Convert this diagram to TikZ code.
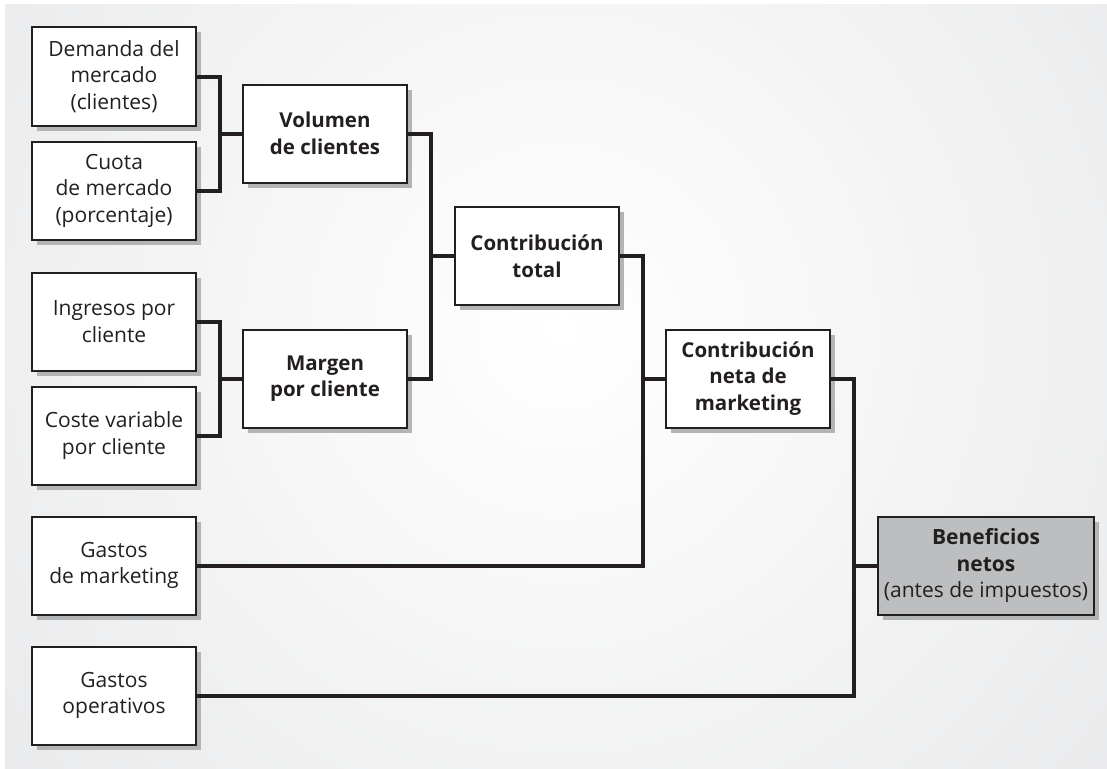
\documentclass[tikz,border=0pt]{standalone}
\usepackage{fontspec}
\setmainfont{Open Sans}
\usepackage{xcolor}
\usepackage{tikz}
\usetikzlibrary{positioning,calc,shadows}
\definecolor{ink}{HTML}{231F20}
\definecolor{bggray}{HTML}{DCDDDF}
\definecolor{shadowgray}{HTML}{B3B4B6}
\definecolor{resultfill}{HTML}{BCBEC0}
\tikzset{
  box/.style={draw=ink, line width=2pt, fill=white, text=ink, outer sep=0pt,
    minimum width=164pt, minimum height=98pt, align=center,
    font=\fontsize{21}{26.5}\selectfont,
    general shadow={fill=shadowgray, shadow xshift=5pt, shadow yshift=-5pt}},
  kbox/.style={box, font=\fontsize{20.5}{26.5}\selectfont\bfseries},
  rbox/.style={box, fill=resultfill, minimum width=216pt},
  link/.style={draw=ink, line width=4pt}
}

\begin{document}
\begin{tikzpicture}[node distance=16pt and 24pt]
  \useasboundingbox (0,0) rectangle (1107pt,-768pt);
  \begin{scope}
    \clip (5pt,-5pt) rectangle (1107pt,-768pt);
    \fill[bggray] (5pt,-5pt) rectangle (1107pt,-768pt);
    \shade[inner color=white, outer color=bggray] (560pt,-330pt) circle (1150pt);
  \end{scope}
  % inputs (left column)
  \node[box] (dem) at (114pt,-76.5pt) {Demanda del\\mercado\\(clientes)};
  \node[box, below=of dem] (cuo) {Cuota\\de mercado\\(porcentaje)};
  \node[box, below=33pt of cuo] (ing) {Ingresos por\\cliente};
  \node[box, below=of ing] (cos) {Coste variable\\por cliente};
  \node[box, below=32pt of cos] (gmk) {Gastos\\de marketing};
  \node[box, below=32pt of gmk] (gop) {Gastos\\operativos};
  % intermediate results
  \node[kbox] (vol) at ($(dem)!0.5!(cuo)+(211pt,0)$) {Volumen\\de clientes};
  \node[kbox] (mar) at ($(ing)!0.5!(cos)+(211pt,0)$) {Margen\\por cliente};
  \node[kbox] (tot) at ($(vol)!0.5!(mar)+(212pt,0)$) {Contribución\\total};
  \node[kbox] (net) at ($(mar)+(423pt,0)$) {Contribución\\neta de\\marketing};
  \node[rbox] (ben) at ($(gmk)+(872pt,0)$) {\textbf{Beneficios}\\\textbf{netos}\\(antes de impuestos)};
  % junctions
  \coordinate[right=of dem.east] (j1);
  \coordinate[right=of vol.east] (j2);
  \coordinate[right=of tot.east] (j3);
  \coordinate[right=of net.east] (j4);
  \draw[link] (dem.east) -- (j1) |- (cuo.east);
  \draw[link] (j1 |- vol.west) -- (vol.west);
  \draw[link] (ing.east) -- (ing.east -| j1) |- (cos.east);
  \draw[link] (j1 |- mar.west) -- (mar.west);
  \draw[link] (vol.east) -- (j2) |- (mar.east);
  \draw[link] (j2 |- tot.west) -- (tot.west);
  \draw[link] (tot.east) -- (j3) |- (gmk.east);
  \draw[link] (j3 |- net.west) -- (net.west);
  \draw[link] (net.east) -- (j4) |- (gop.east);
  \draw[link] (j4 |- ben.west) -- (ben.west);
\end{tikzpicture}
\end{document}
